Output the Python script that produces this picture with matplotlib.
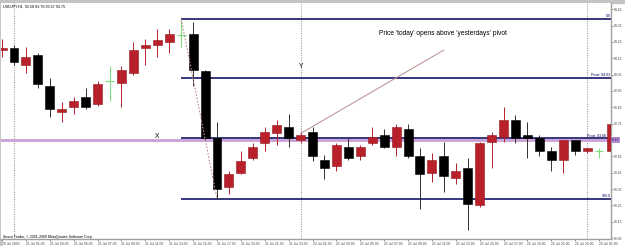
import matplotlib
matplotlib.use("Agg")
import matplotlib.pyplot as plt
from matplotlib.patches import Rectangle
import numpy as np

plt.rcParams['font.family'] = ['Liberation Sans', 'DejaVu Sans']

# USDJPY H1 bars, 20 Jul 2009 23:00 .. 23 Jul 2009 02:00
opens = [94.20, 94.21, 94.11, 94.17, 93.98, 93.82, 93.85, 93.91, 93.87, 94.01,
         94.00, 94.06, 94.21, 94.23, 94.25, 94.29, 94.30, 94.07, 93.66, 93.36,
         93.45, 93.54, 93.63, 93.69, 93.73, 93.65, 93.70, 93.53, 93.49, 93.61,
         93.55, 93.63, 93.68, 93.61, 93.72, 93.55, 93.45, 93.55, 93.42, 93.48,
         93.25, 93.64, 93.67, 93.77, 93.68, 93.66, 93.58, 93.53, 93.65, 93.58,
         93.58, 93.58]
highs = [94.27, 94.23, 94.22, 94.18, 94.03, 93.88, 93.91, 93.97, 94.01, 94.10,
         94.10, 94.25, 94.27, 94.33, 94.33, 94.39, 94.37, 94.08, 93.76, 93.46,
         93.58, 93.63, 93.73, 93.77, 93.81, 93.70, 93.73, 93.56, 93.63, 93.66,
         93.62, 93.73, 93.72, 93.75, 93.75, 93.60, 93.57, 93.64, 93.51, 93.54,
         93.64, 93.70, 93.85, 93.80, 93.76, 93.68, 93.61, 93.65, 93.65, 93.60,
         93.60, 93.76]
lows = [94.16, 94.11, 94.06, 93.97, 93.79, 93.76, 93.81, 93.84, 93.86, 93.89,
        93.85, 94.05, 94.11, 94.16, 94.18, 94.22, 93.98, 93.65, 93.29, 93.32,
        93.44, 93.53, 93.58, 93.62, 93.61, 93.63, 93.52, 93.41, 93.46, 93.53,
        93.53, 93.62, 93.60, 93.55, 93.54, 93.23, 93.39, 93.33, 93.38, 93.10,
        93.24, 93.48, 93.64, 93.63, 93.54, 93.55, 93.46, 93.45, 93.56, 93.57,
        93.54, 93.57]
closes = [94.21, 94.13, 94.16, 93.99, 93.84, 93.84, 93.89, 93.85, 93.99, 94.01,
          94.08, 94.20, 94.23, 94.26, 94.30, 94.29, 94.08, 93.66, 93.35, 93.44,
          93.52, 93.61, 93.70, 93.74, 93.66, 93.68, 93.55, 93.48, 93.62, 93.54,
          93.61, 93.67, 93.61, 93.73, 93.55, 93.44, 93.53, 93.43, 93.46, 93.26,
          93.63, 93.68, 93.77, 93.66, 93.66, 93.58, 93.53, 93.65, 93.58, 93.60,
          93.58, 93.75]

x_labels = ["20 Jul 2009", "21 Jul 01:00", "21 Jul 03:00", "21 Jul 05:00",
            "21 Jul 07:00", "21 Jul 09:00", "21 Jul 11:00", "21 Jul 13:00",
            "21 Jul 15:00", "21 Jul 17:00", "21 Jul 19:00", "21 Jul 21:00",
            "21 Jul 23:00", "22 Jul 01:00", "22 Jul 03:00", "22 Jul 05:00",
            "22 Jul 07:00", "22 Jul 09:00", "22 Jul 11:00", "22 Jul 13:00",
            "22 Jul 15:00", "22 Jul 17:00", "22 Jul 19:00", "22 Jul 21:00",
            "22 Jul 23:00", "23 Jul 01:00"]
y_ticks = [93.05, 93.15, 93.25, 93.35, 93.45, 93.55, 93.65, 93.75,
           93.85, 93.95, 94.05, 94.15, 94.25, 94.35, 94.45]

# objects drawn on the chart
fib_start = 15
fib_high, fib_low = 94.39, 93.29
pivot_prev, pivot_today = 94.03, 93.66
bid = 93.65
day_breaks = [1, 25, 49]
trend_x, trend_y = [25, 37], [93.69, 94.20]
fib_x, fib_y = [15, 18], [94.39, 93.29]

RED = '#b8202a'
NAVY = '#00005a'
GREEN = '#7fdc7f'
GREY = '#a0a0a0'

fig = plt.figure(figsize=(6.25, 2.46), dpi=100)
W, H = 625, 246
ax = fig.add_axes([1 / W, (H - 239) / H, 610 / W, 236 / H])

n = len(opens)
x = np.arange(n)
o, h, l, c = map(np.array, (opens, highs, lows, closes))
up = c > o
down = c < o
doji = c == o

# wicks
ax.vlines(x[up], l[up], h[up], color=RED, lw=0.7, zorder=3)
ax.vlines(x[down], l[down], h[down], color='#303030', lw=0.7, zorder=3)
ax.vlines(x[doji], l[doji], h[doji], color=GREEN, lw=0.8, zorder=3)
ax.hlines(c[doji], x[doji] - 0.37, x[doji] + 0.37, color=GREEN, lw=0.8, zorder=3)

# bodies
bw = 0.75
ax.bar(x[up], (c - o)[up], bottom=o[up], width=bw, color=RED,
       edgecolor='#901820', lw=0.4, zorder=4)
ax.bar(x[down], (o - c)[down], bottom=c[down], width=bw, color='black',
       edgecolor='black', lw=0.4, zorder=4)

# day separators
for d in day_breaks:
    ax.axvline(d, color=GREY, lw=0.8, ls=(0, (1, 1.2)), zorder=1)

# current bid line
ax.axhline(bid, color='#c9a0d8', lw=2.0, zorder=2)

# fibonacci and pivot levels
x_end = n - 1 + 0.5
for lvl in (fib_high, pivot_prev, pivot_today, fib_low):
    ax.hlines(lvl, fib_start, x_end, color=NAVY, lw=1.1, zorder=2.5)
ax.plot(fib_x, fib_y, color='#c08a8a', lw=0.8, ls=(0, (1.5, 1.5)), zorder=5)
ax.plot(trend_x, trend_y, color='#b88c8c', lw=0.7, zorder=5)

lab = dict(fontsize=2.6, color=NAVY, ha='right', va='bottom')
xr = 50.95
ax.text(xr, fib_high + 0.004, "0.0", **lab)
ax.text(xr, pivot_prev + 0.004, "Pivot: 94.03", **lab)
ax.text(xr - 0.4, pivot_today + 0.004, "Pivot: 93.66", **lab)
ax.text(xr, fib_low + 0.004, "100.0", **lab)

ax.text(31.6, 94.30, "Price 'today' opens above 'yesterdays' pivot",
        fontsize=4.75, va='center', ha='left')
ax.text(25, 94.10, "Y", fontsize=4.8, ha='center', va='center')
ax.text(13, 93.67, "X", fontsize=4.8, ha='center', va='center')
ax.text(0.1, 94.465, "USDJPY,H1  93.58 93.76 93.57 93.75", fontsize=2.7,
        va='center', ha='left')
ax.text(0.05, 93.055, "Ibroco Trader, \u00a9 2001-2009 MetaQuotes Software Corp.",
        fontsize=2.6, va='center', ha='left')

# axes
ax.set_xlim(-0.09, 51.0)
ax.set_ylim(93.0443, 94.488)
ax.set_facecolor('white')
for s in ('left', 'top'):
    ax.spines[s].set_visible(False)
for s in ('right', 'bottom'):
    ax.spines[s].set_color(GREY)
    ax.spines[s].set_linewidth(1.0)

ax.yaxis.tick_right()
ax.set_yticks(y_ticks)
# the bid box takes the place of the tick label at the bid level
ax.set_yticklabels(["" if abs(v - bid) < 1e-6 else f"{v:.2f}" for v in y_ticks])
ax.tick_params(axis='y', length=1.5, width=0.5, pad=0.8, labelsize=2.4,
               color='#606060', labelcolor='#404040')
ax.set_xticks(np.arange(0, n, 2))
ax.set_xticklabels(x_labels, ha='left')
ax.tick_params(axis='x', length=1.5, width=0.5, pad=0.8, labelsize=2.4,
               color='#606060', labelcolor='#404040')

ax.text(1.0, bid, "93.65", transform=ax.get_yaxis_transform(), fontsize=2.4,
        color='#202060', va='center', ha='left',
        bbox=dict(boxstyle='square,pad=0.25', fc='#b48ad0', ec='none'))

# grey window frame
fig.add_artist(Rectangle((0, 1 - 2.5 / H), 1, 2.5 / H, transform=fig.transFigure,
                         color='#c4c4c4', zorder=0))
fig.add_artist(Rectangle((0, 0), 1.2 / W, 1, transform=fig.transFigure,
                         color='#c4c4c4', zorder=0))

fig.savefig("out.png", dpi=100)
